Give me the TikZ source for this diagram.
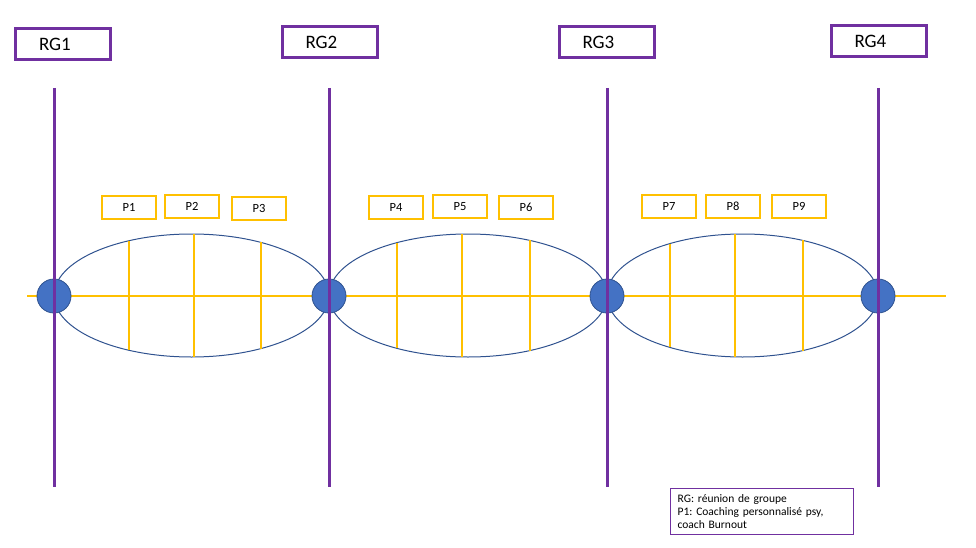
\documentclass[tikz,border=0pt]{standalone}
\usepackage{fontspec}
\setmainfont{Carlito}
\usepackage{tikz}
\usetikzlibrary{positioning}
\definecolor{rgpurple}{HTML}{7030A0}
\definecolor{pyellow}{HTML}{FFC000}
\definecolor{dotblue}{HTML}{4472C4}
\definecolor{dotedge}{HTML}{2F528F}
\frenchspacing

\begin{document}
\begin{tikzpicture}[x=1pt,y=-1pt,
			rg/.style={draw=rgpurple, line width=3pt, minimum width=95pt, minimum height=31pt, text width=48pt, inner xsep=23.5pt, align=left, font=\fontsize{19}{21}\selectfont},
			pbox/.style={draw=pyellow, line width=2pt, minimum width=54pt, minimum height=23pt, inner sep=0pt, font=\fontsize{12.5}{14}\selectfont},
			dot/.style={circle, fill=dotblue, draw=dotedge, line width=0.8pt, minimum size=34pt, inner sep=0pt},
			axis/.style={rgpurple, line width=3pt},
			grid/.style={pyellow, line width=1.8pt}]
		\useasboundingbox (0,0) rectangle (976,548);
		\path 	(63,44) 	node 	(rg1) [rg] {RG1}
		        (329.5,42.5) node 	(rg2) [rg] {RG2}
		        (606.5,42) 	node 	(rg3) [rg] {RG3}
		        (878.5,41) 	node 	(rg4) [rg] {RG4};
		\coordinate (left) at (27,296);
		\coordinate (right) at (946,296);
		\draw [grid] (left) -- (right);
		\foreach \cx/\rx/\a/\b/\c in {191.5/137.5/129/194/261, 468/139/397/462/530, 742.5/135.5/670/735/803}{
			\draw [dotedge, line width=1pt] (\cx,295.5) ellipse ({\rx} and 61.5);
			\foreach \lx in {\a,\b,\c}{
				\pgfmathsetmacro\h{61.5*sqrt(1-((\lx-\cx)/\rx)^2)}
				\draw [grid] (\lx,{295.5-\h}) -- (\lx,{295.5+\h});
			}
		}
		\foreach \i/\x in {1/54, 2/329, 3/607, 4/878}{
			\node (d\i) [dot] at (\x,296) {};
			\coordinate (t\i) at (\x,88);
			\coordinate (b\i) at (\x,487);
			\draw [axis] (t\i) -- (b\i);
		}
		\path 	(129,207.5) node (p1) [pbox] {P1}
		        (192,206.5) node (p2) [pbox] {P2}
		        (259,208) 	node (p3) [pbox] {P3}
		        (396,207.5) node (p4) [pbox] {P4}
		        (460,206.5) node (p5) [pbox] {P5}
		        (526,207.5) node (p6) [pbox] {P6}
		        (669,206.5) node (p7) [pbox] {P7}
		        (733,206.5) node (p8) [pbox] {P8}
		        (799,206.5) node (p9) [pbox] {P9};
		\node (legend) [draw=rgpurple, line width=1.2pt, anchor=north west, text width=169pt, inner xsep=7pt, inner ysep=6pt, align=left, font=\fontsize{11.5}{13}\selectfont] at (670,488)
			{RG: réunion de groupe\\P1: Coaching personnalisé psy,\\coach Burnout};
	\end{tikzpicture}
\end{document}
